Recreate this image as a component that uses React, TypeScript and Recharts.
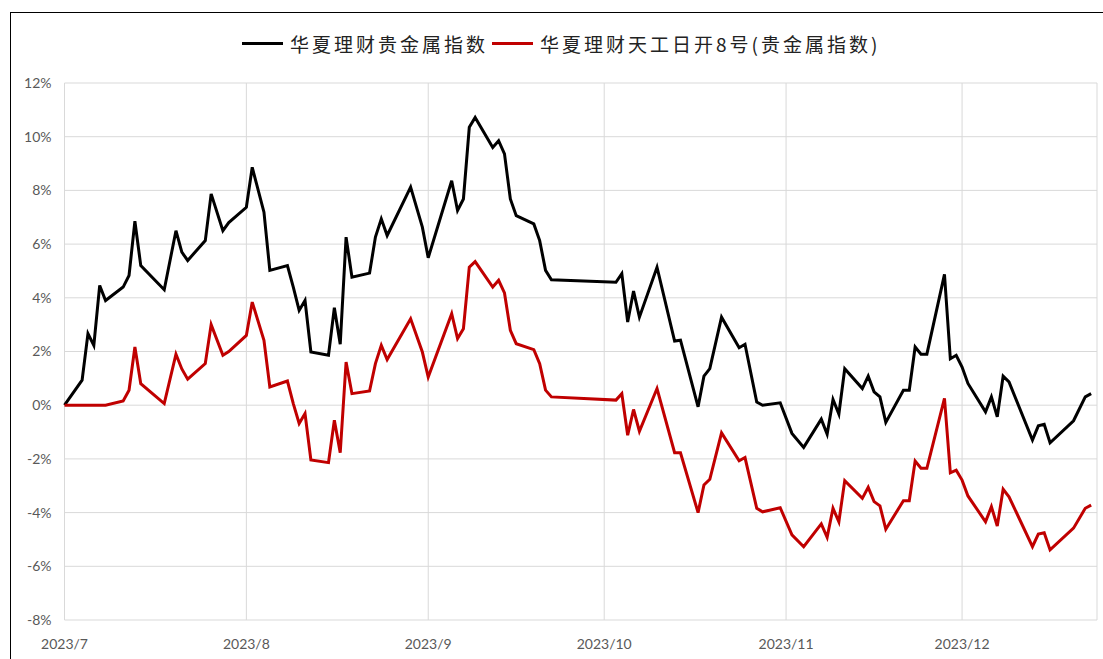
import { LineChart, Line, XAxis, YAxis, CartesianGrid } from 'recharts';

// NAV dates (calendar axis, base 2023-07-01)
const dates = [
  '2023-07-01', '2023-07-04', '2023-07-05', '2023-07-06', '2023-07-07', '2023-07-08',
  '2023-07-11', '2023-07-12', '2023-07-13', '2023-07-14', '2023-07-18', '2023-07-20',
  '2023-07-21', '2023-07-22', '2023-07-25', '2023-07-26', '2023-07-28', '2023-07-29',
  '2023-08-01', '2023-08-02', '2023-08-04', '2023-08-05', '2023-08-08', '2023-08-09',
  '2023-08-10', '2023-08-11', '2023-08-12', '2023-08-15', '2023-08-16', '2023-08-17',
  '2023-08-18', '2023-08-19', '2023-08-22', '2023-08-23', '2023-08-24', '2023-08-25',
  '2023-08-29', '2023-08-31', '2023-09-01', '2023-09-05', '2023-09-06', '2023-09-07',
  '2023-09-08', '2023-09-09', '2023-09-12', '2023-09-13', '2023-09-14', '2023-09-15',
  '2023-09-16', '2023-09-19', '2023-09-20', '2023-09-21', '2023-09-22', '2023-10-03',
  '2023-10-04', '2023-10-05', '2023-10-06', '2023-10-07', '2023-10-10', '2023-10-13',
  '2023-10-14', '2023-10-17', '2023-10-18', '2023-10-19', '2023-10-21', '2023-10-24',
  '2023-10-25', '2023-10-27', '2023-10-28', '2023-10-31', '2023-11-02', '2023-11-04',
  '2023-11-07', '2023-11-08', '2023-11-09', '2023-11-10', '2023-11-11', '2023-11-14',
  '2023-11-15', '2023-11-16', '2023-11-17', '2023-11-18', '2023-11-21', '2023-11-22',
  '2023-11-23', '2023-11-24', '2023-11-25', '2023-11-28', '2023-11-29', '2023-11-30',
  '2023-12-01', '2023-12-02', '2023-12-05', '2023-12-06', '2023-12-07', '2023-12-08',
  '2023-12-09', '2023-12-13', '2023-12-14', '2023-12-15', '2023-12-16', '2023-12-20',
  '2023-12-22', '2023-12-23',
];

// 华夏理财贵金属指数, cumulative return %
const metalIndex = [
  0, 0.93, 2.67, 2.23, 4.46, 3.9,
  4.4, 4.83, 6.85, 5.2, 4.3, 6.5,
  5.7, 5.39, 6.13, 7.87, 6.5, 6.8,
  7.37, 8.86, 7.19, 5.02, 5.2, 4.4,
  3.53, 3.9, 1.98, 1.86, 3.63, 2.27,
  6.26, 4.77, 4.92, 6.26, 6.94, 6.32,
  8.12, 6.63, 5.49, 8.36, 7.25, 7.68,
  10.35, 10.72, 9.6, 9.85, 9.36, 7.68,
  7.06, 6.75, 6.13, 5.02, 4.67, 4.58,
  4.9, 3.1, 4.25, 3.28, 5.14, 2.39,
  2.42, -0.06, 1.08, 1.36, 3.28, 2.14,
  2.27, 0.12, 0, 0.09, -1.05, -1.57,
  -0.52, -1.08, 0.21, -0.33, 1.36, 0.62,
  1.08, 0.5, 0.31, -0.64, 0.56, 0.56,
  2.17, 1.9, 1.9, 4.87, 1.73, 1.86,
  1.42, 0.81, -0.25, 0.31, -0.43, 1.08,
  0.87, -1.3, -0.77, -0.71, -1.4, -0.58,
  0.31, 0.43,
];

// 华夏理财天工日开8号(贵金属指数), cumulative return %
const tiangong8 = [
  0, 0, 0, 0, 0, 0,
  0.16, 0.56, 2.17, 0.8, 0.06, 1.9,
  1.35, 0.97, 1.55, 3.0, 1.86, 2.0,
  2.6, 3.84, 2.42, 0.68, 0.9, 0.06,
  -0.68, -0.31, -2.04, -2.14, -0.56, -1.77,
  1.61, 0.43, 0.53, 1.55, 2.23, 1.7,
  3.22, 1.98, 1.05, 3.41, 2.48, 2.85,
  5.14, 5.35, 4.4, 4.65, 4.18, 2.79,
  2.29, 2.07, 1.55, 0.56, 0.31, 0.19,
  0.43, -1.12, -0.16, -0.97, 0.62, -1.77,
  -1.77, -4.0, -2.97, -2.76, -1.03, -2.07,
  -1.95, -3.84, -3.97, -3.82, -4.83, -5.27,
  -4.42, -4.92, -3.84, -4.34, -2.81, -3.47,
  -3.06, -3.59, -3.75, -4.62, -3.56, -3.56,
  -2.08, -2.35, -2.35, 0.25, -2.52, -2.42,
  -2.79, -3.38, -4.34, -3.78, -4.5, -3.13,
  -3.41, -5.27, -4.8, -4.75, -5.39, -4.58,
  -3.84, -3.72,
];

const monthTicks = ['2023-07-01', '2023-08-01', '2023-09-01', '2023-10-01', '2023-11-01', '2023-12-01'];
const monthLabels = ['2023/7', '2023/8', '2023/9', '2023/10', '2023/11', '2023/12'];
const axisEnd = '2023-12-24';
const yTicks = [-8, -6, -4, -2, 0, 2, 4, 6, 8, 10, 12];

const seriesNames = ['华夏理财贵金属指数', '华夏理财天工日开8号(贵金属指数)'];
const seriesColors = ['#000000', '#c00000'];

const BASE = Date.parse('2023-07-01');
const toDay = (s: string) => Math.round((Date.parse(s) - BASE) / 86400000);

const chartData = dates.map((d, i) => ({
  day: toDay(d),
  metal: metalIndex[i],
  tiangong: tiangong8[i],
}));

const tickDays = monthTicks.map(toDay);

const axisTick = { fill: '#595959', fontSize: 14, fontFamily: 'Lato, sans-serif' };

export default function App() {
  return (
    <div
      style={{
        position: 'fixed',
        left: 0,
        top: 0,
        width: 1103,
        height: 659,
        overflow: 'hidden',
        background: '#fff',
      }}
    >
      <div
        style={{
          position: 'absolute',
          left: 10,
          top: 12,
          width: 1200,
          height: 800,
          borderLeft: '1px solid #000',
          borderTop: '1px solid #000',
        }}
      />
      <div
        style={{
          position: 'absolute',
          left: 242,
          top: 30,
          height: 26,
          display: 'flex',
          alignItems: 'center',
          fontFamily: '"Noto Sans CJK SC", sans-serif',
          fontSize: 19,
          letterSpacing: 3,
          color: '#222',
          whiteSpace: 'nowrap',
        }}
      >
        {seriesNames.map((name, i) => (
          <div key={name} style={{ display: 'flex', alignItems: 'center' }}>
            <span
              style={{
                display: 'inline-block',
                width: 41,
                height: 3,
                background: seriesColors[i],
                marginRight: 7,
                marginLeft: i === 0 ? 0 : 4,
              }}
            />
            <span>{name}</span>
          </div>
        ))}
      </div>
      <div style={{ position: 'absolute', left: 0, top: 0 }}>
        <LineChart
          width={1103}
          height={659}
          data={chartData}
          margin={{ top: 83, right: 6, bottom: 9, left: 0 }}
        >
          <CartesianGrid stroke="#d9d9d9" strokeWidth={1} />
          <XAxis
            dataKey="day"
            type="number"
            domain={[0, toDay(axisEnd)]}
            ticks={tickDays}
            tickFormatter={(v) => monthLabels[tickDays.indexOf(v)] ?? ''}
            axisLine={false}
            tickLine={false}
            tickMargin={13}
            tick={axisTick}
            interval={0}
          />
          <YAxis
            type="number"
            domain={[-8, 12]}
            ticks={yTicks}
            tickFormatter={(v) => `${v}%`}
            axisLine={false}
            tickLine={false}
            tickMargin={7}
            width={64.5}
            tick={axisTick}
            interval={0}
          />
          <Line
            type="linear"
            dataKey="metal"
            stroke={seriesColors[0]}
            strokeWidth={3}
            dot={false}
            isAnimationActive={false}
          />
          <Line
            type="linear"
            dataKey="tiangong"
            stroke={seriesColors[1]}
            strokeWidth={3}
            dot={false}
            isAnimationActive={false}
          />
        </LineChart>
      </div>
    </div>
  );
}
